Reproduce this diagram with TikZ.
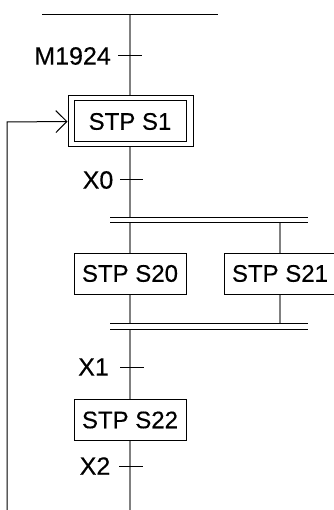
\documentclass[tikz,border=0pt]{standalone}
\usepackage{fontspec}
\setmainfont{Liberation Sans}
\newfontfamily\diagfont[FakeBold=0.4]{Liberation Sans}
\usetikzlibrary{arrows.meta}
\begin{document}
\begin{tikzpicture}[x=1pt,y=-1pt,
  stepbox/.style={draw=black,line width=1pt,inner sep=0pt,minimum width=112pt,minimum height=41pt,font=\diagfont\fontsize{24}{28}\selectfont},
  outerbox/.style={draw=black,line width=1pt,inner sep=0pt,minimum width=125pt,minimum height=51pt},
  flow/.style={draw={rgb,255:red,128;green,128;blue,128},line width=1.6pt},
  hline/.style={draw=black,line width=1pt},
  lbl/.style={anchor=east,inner sep=0pt,font=\diagfont\fontsize{25}{29}\selectfont}]
\useasboundingbox (0,0) rectangle (333,510);
% coordinates
\coordinate (tl) at (42,15);
\coordinate (tr) at (218,15);
\coordinate (top) at (130,15);
\coordinate (b1a) at (110,218);
\coordinate (b1b) at (308,218);
\coordinate (b1c) at (110,223);
\coordinate (b1d) at (308,223);
\coordinate (b2a) at (110,323);
\coordinate (b2b) at (308,323);
\coordinate (b2c) at (110,329);
\coordinate (b2d) at (308,329);
\coordinate (bot) at (130,510);
\coordinate (lb) at (7,510);
\coordinate (lt) at (7,122);
% steps
\node[outerbox] (s1o) at (130.5,121.5) {};
\node[stepbox] (s1) at (130,121.5) {STP S1};
\node[stepbox] (s20) at (130,273.5) {STP S20};
\node[stepbox] (s21) at (280,273.5) {STP S21};
\node[stepbox] (s22) at (130,420) {STP S22};
% flow lines
\draw[flow] (top) -- (s1o.north -| top);
\draw[flow] (s1o.south -| top) -- (b1a -| top);
\draw[flow] (b1c -| s20) -- (s20.north);
\draw[flow] (b1c -| s21) -- (s21.north);
\draw[flow] (s20.south) -- (b2a -| s20);
\draw[flow] (s21.south) -- (b2a -| s21);
\draw[flow] (b2c -| s22) -- (s22.north);
\draw[flow] (s22.south) -- (bot);
% bars
\draw[hline] (tl) -- (tr);
\draw[hline] (b1a) -- (b1b);
\draw[hline] (b1c) -- (b1d);
\draw[hline] (b2a) -- (b2b);
\draw[hline] (b2c) -- (b2d);
% transitions
\coordinate (t0a) at (118,56); \coordinate (t0b) at (142,56);
\coordinate (t1a) at (120,180); \coordinate (t1b) at (143,180);
\coordinate (t2a) at (120,367); \coordinate (t2b) at (144,367);
\coordinate (t3a) at (119,466); \coordinate (t3b) at (143,466);
\draw[hline] (t0a) -- (t0b);
\draw[hline] (t1a) -- (t1b);
\draw[hline] (t2a) -- (t2b);
\draw[hline] (t3a) -- (t3b);
\node[lbl] (m) at (111,56) {M1924};
\node[lbl] (x0) at (113.5,180) {X0};
\node[lbl] (x1) at (109,367) {X1};
\node[lbl] (x2) at (110.5,466) {X2};
% return
\draw[hline,-{Straight Barb[length=11pt,width=22pt]}] (lb) -- (lt) -- (s1o.west);
\end{tikzpicture}
\end{document}
